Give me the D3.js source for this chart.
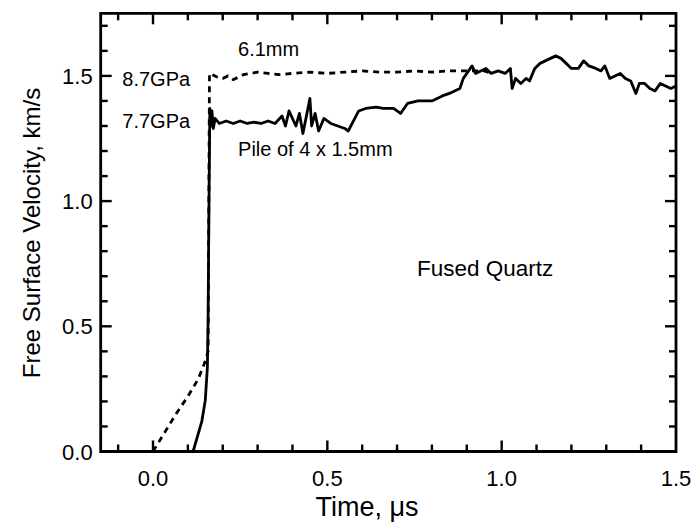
<!DOCTYPE html>
<html><head><meta charset="utf-8">
<script src="https://cdn.jsdelivr.net/npm/d3@7"></script>
<style>body{margin:0;background:#fff}svg{display:block}text{font-family:"Liberation Sans",Arial,sans-serif;fill:#000}</style>
</head><body>
<script>
const xTicks=[0.0,0.5,1.0,1.5];
const yTicks=[0.0,0.5,1.0,1.5];
const xMinor=[-0.1,0.1,0.2,0.3,0.4,0.6,0.7,0.8,0.9,1.1,1.2,1.3,1.4];
const yMinor=[0.1,0.2,0.3,0.4,0.6,0.7,0.8,0.9,1.1,1.2,1.3,1.4,1.6,1.7];
const dashedSeries=[[0.0,0],[0.066,0.15],[0.10,0.22],[0.13,0.29],[0.149,0.357],[0.158,0.40],[0.162,1.51],[0.17,1.505],[0.185,1.495],[0.20,1.49],[0.215,1.50],[0.23,1.485],[0.245,1.495],[0.26,1.505],[0.28,1.51],[0.30,1.515],[0.33,1.51],[0.36,1.505],[0.40,1.51],[0.45,1.515],[0.50,1.51],[0.55,1.515],[0.60,1.52],[0.65,1.515],[0.70,1.515],[0.75,1.52],[0.80,1.515],[0.85,1.52],[0.90,1.52],[0.95,1.52],[0.97,1.51]];
const solidSeries=[[-0.15,0],[0.115,0],[0.14,0.12],[0.15,0.205],[0.156,0.337],[0.158,0.52],[0.16,0.9],[0.163,1.37],[0.167,1.30],[0.169,1.36],[0.173,1.29],[0.178,1.33],[0.19,1.31],[0.21,1.32],[0.23,1.31],[0.25,1.32],[0.27,1.31],[0.29,1.315],[0.31,1.31],[0.33,1.32],[0.35,1.31],[0.37,1.34],[0.38,1.30],[0.39,1.36],[0.40,1.33],[0.41,1.30],[0.42,1.35],[0.43,1.27],[0.44,1.34],[0.45,1.41],[0.455,1.30],[0.465,1.35],[0.475,1.28],[0.49,1.33],[0.51,1.31],[0.53,1.30],[0.55,1.29],[0.56,1.28],[0.575,1.32],[0.59,1.36],[0.61,1.37],[0.64,1.375],[0.66,1.37],[0.69,1.37],[0.71,1.35],[0.73,1.39],[0.76,1.40],[0.80,1.40],[0.83,1.42],[0.85,1.43],[0.88,1.45],[0.89,1.49],[0.90,1.51],[0.915,1.54],[0.925,1.51],[0.94,1.52],[0.955,1.53],[0.97,1.51],[0.99,1.52],[1.01,1.51],[1.025,1.53],[1.03,1.45],[1.04,1.49],[1.055,1.47],[1.07,1.49],[1.08,1.48],[1.095,1.53],[1.11,1.55],[1.125,1.56],[1.14,1.57],[1.155,1.58],[1.17,1.57],[1.185,1.55],[1.2,1.53],[1.22,1.53],[1.235,1.56],[1.25,1.54],[1.27,1.53],[1.285,1.52],[1.296,1.54],[1.31,1.49],[1.325,1.50],[1.34,1.51],[1.355,1.49],[1.37,1.48],[1.385,1.43],[1.395,1.47],[1.41,1.47],[1.425,1.45],[1.44,1.44],[1.455,1.47],[1.47,1.46],[1.485,1.45],[1.5,1.46]];
const annotations=[
 {t:"6.1mm",x:0.244,y:1.58,s:20},
 {t:"8.7GPa",x:-0.088,y:1.461,s:20},
 {t:"7.7GPa",x:-0.088,y:1.29,s:20},
 {t:"Pile of 4 x 1.5mm",x:0.244,y:1.182,s:20},
 {t:"Fused Quartz",x:0.757,y:0.70,s:22.5}
];

const W=696,H=524,m={l:100.7,r:20,t:13.3,b:72.5};
const svg=d3.select("body").append("svg").attr("width",W).attr("height",H).attr("viewBox",`0 0 ${W} ${H}`);
const x=d3.scaleLinear().domain([-0.15,1.5]).range([m.l,W-m.r]);
const y=d3.scaleLinear().domain([0,1.75]).range([H-m.b,m.t]);
const yB=y(0), yT=y(1.75), xL=x(-0.15), xR=x(1.5);
const tw=2.4;

svg.append("path").attr("d",`M${xL},${yT}H${xR}V${yB}H${xL}Z`)
 .attr("fill","none").attr("stroke","#000").attr("stroke-width",2.8);

// tick marks as small filled rectangles, inward on all four sides
const tk=svg.append("g").attr("fill","#000");
function xMarks(vals,len){
  tk.selectAll(null).data(vals).join("rect").attr("x",d=>x(d)-tw/2).attr("y",yB-len).attr("width",tw).attr("height",len);
  tk.selectAll(null).data(vals).join("rect").attr("x",d=>x(d)-tw/2).attr("y",yT).attr("width",tw).attr("height",len);
}
function yMarks(vals,len){
  tk.selectAll(null).data(vals).join("rect").attr("x",xL).attr("y",d=>y(d)-tw/2).attr("width",len).attr("height",tw);
  tk.selectAll(null).data(vals).join("rect").attr("x",xR-len).attr("y",d=>y(d)-tw/2).attr("width",len).attr("height",tw);
}
xMarks(xMinor,7); xMarks(xTicks.filter(v=>v<1.5),11);
yMarks(yMinor,7); yMarks(yTicks.filter(v=>v>0),11);

// tick labels
svg.selectAll("text.xl").data(xTicks).join("text").attr("class","xl").attr("x",d=>x(d)).attr("y",yB+34)
 .attr("text-anchor","middle").attr("font-size",22).text(d=>d.toFixed(1));
svg.selectAll("text.yl").data(yTicks).join("text").attr("class","yl").attr("x",xL-8).attr("y",d=>y(d)+8)
 .attr("text-anchor","end").attr("font-size",22).text(d=>d.toFixed(1));

svg.append("text").attr("x",367).attr("y",516).attr("text-anchor","middle").attr("font-size",27).text("Time, μs");
svg.append("text").attr("transform","translate(40,233) rotate(-90)").attr("text-anchor","middle").attr("font-size",24).text("Free Surface Velocity, km/s");

const line=d3.line().x(d=>x(d[0])).y(d=>y(d[1]));
svg.append("defs").append("clipPath").attr("id","c").append("rect").attr("x",xL).attr("y",yT).attr("width",xR-xL).attr("height",yB-yT);
svg.append("path").datum(dashedSeries).attr("d",line).attr("fill","none").attr("stroke","#000").attr("stroke-width",2.8).attr("stroke-dasharray","6,5").attr("clip-path","url(#c)");
svg.append("path").datum(solidSeries).attr("d",line).attr("fill","none").attr("stroke","#000").attr("stroke-width",2.8).attr("stroke-linejoin","round").attr("clip-path","url(#c)");

svg.selectAll("text.ann").data(annotations).join("text").attr("class","ann").attr("x",d=>x(d.x)).attr("y",d=>y(d.y))
 .attr("font-size",d=>d.s).text(d=>d.t);
</script>
</body></html>
